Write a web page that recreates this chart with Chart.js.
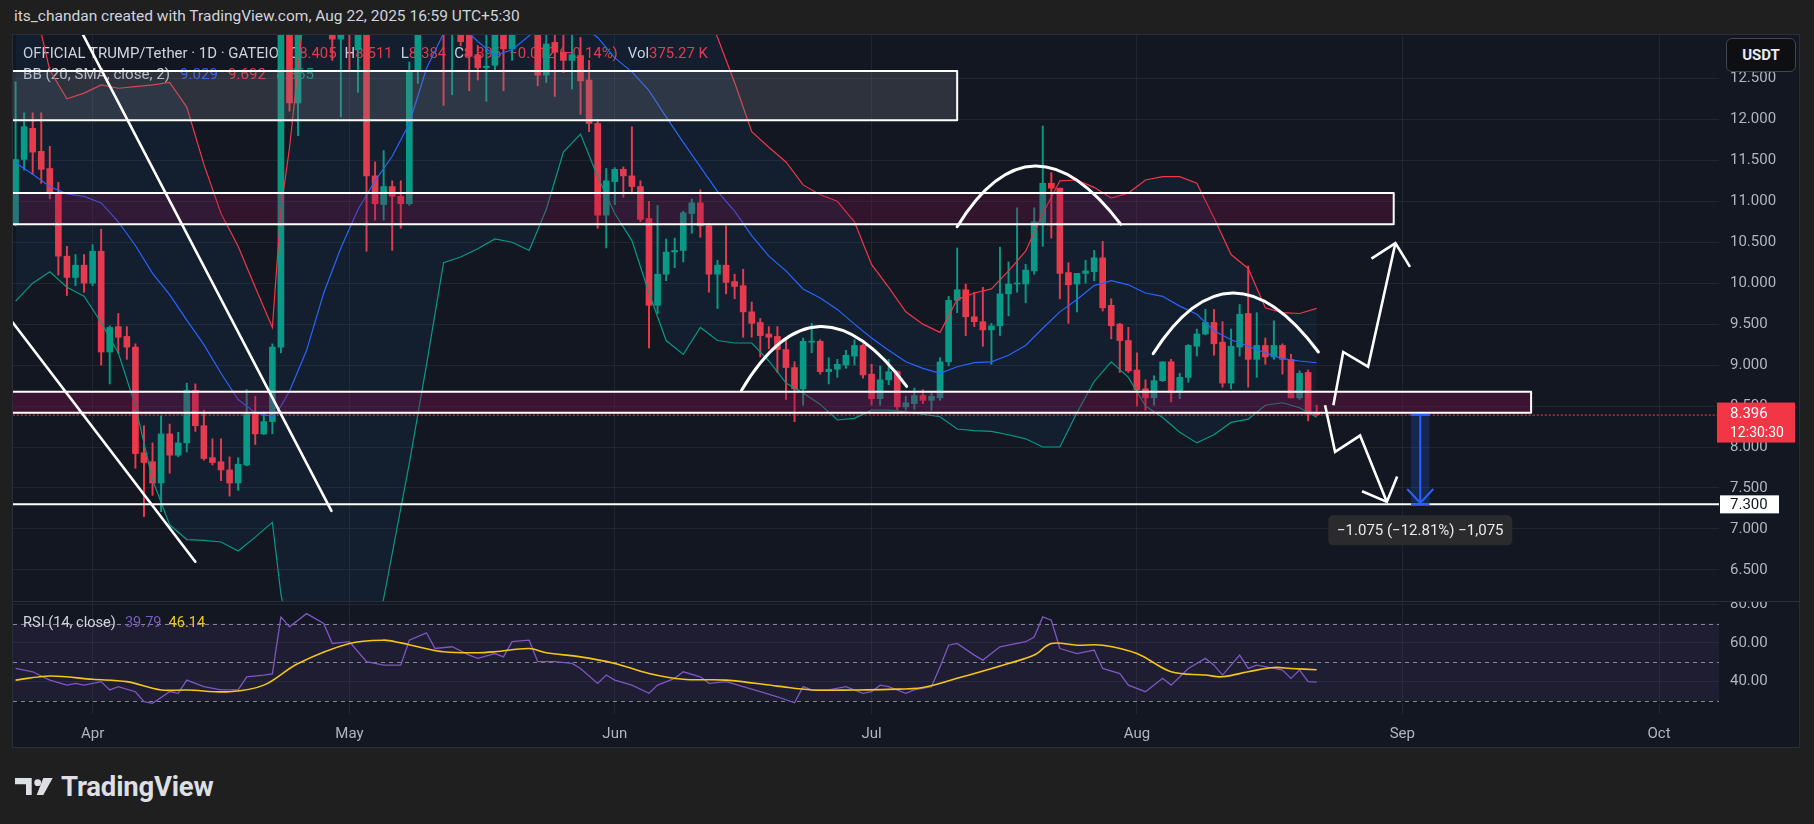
<!DOCTYPE html>
<html>
<head>
<meta charset="utf-8">
<title>OFFICIAL TRUMP/Tether 1D</title>
<script src="https://cdn.jsdelivr.net/npm/chart.js@4.4.1/dist/chart.umd.min.js"></script>
<style>
  html, body { margin: 0; padding: 0; }
  body { width: 1814px; height: 824px; background: #1f1f20; overflow: hidden; position: relative; font-family: Roboto, "Noto Sans", sans-serif; }
  #credit { position: absolute; left: 14px; top: 7px; font-size: 15.5px; color: #d1d4dc; white-space: nowrap; }
  #panel { position: absolute; left: 12px; top: 34px; width: 1786px; height: 712px; background: #131722; border: 1px solid #2a2e39; }
  #price { position: absolute; left: 0; top: 0; }
  #sep { position: absolute; left: 0; top: 566px; width: 1786px; height: 1px; background: #2a2e39; }
  #rsi { position: absolute; left: 0; top: 567px; }
  #usdt { position: absolute; left: 1713px; top: 3px; width: 68px; height: 32px; border: 1px solid #434651; border-radius: 6px;
          background: #0e0f13; color: #e8eaf0; font-size: 15px; font-weight: 700; line-height: 32px; text-align: center; }
  #logo { position: absolute; left: 15px; top: 774px; height: 24px; display: flex; align-items: center; }
  #logo span { margin-left: 8px; font-size: 27.5px; font-weight: 700; color: #dedfe3; letter-spacing: -0.2px; }
</style>
</head>
<body>
<div id="credit">its_chandan created with TradingView.com, Aug 22, 2025 16:59 UTC+5:30</div>
<div id="panel">
  <canvas id="price" width="1786" height="566"></canvas>
  <div id="sep"></div>
  <canvas id="rsi" width="1786" height="145"></canvas>
  <div id="usdt">USDT</div>
</div>
<div id="logo">
  <svg width="38" height="17" viewBox="0 0 38 17"><path d="M0 0H16.7V17H11V6.3H0Z" fill="#dedfe3"/><circle cx="22.7" cy="4.7" r="3.4" fill="#dedfe3"/><path d="M28.3 0H37.7L28.3 17H21.7Z" fill="#dedfe3"/></svg>
  <span>TradingView</span>
</div>
<script>
// daily candles, first one is Mar 23 (day 0 = Apr 1)
const startDay = -9;
const opens = [10.72,11.51,11.89,11.61,11.40,11.10,10.33,10.07,10.22,10.00,
  10.39,9.16,9.47,9.35,9.22,7.93,7.82,7.56,8.16,7.90,
  8.05,8.69,8.26,7.87,7.82,7.72,7.56,7.78,8.40,8.16,
  8.31,9.22,14.20,12.20,13.60,14.00,13.80,13.50,12.98,13.40,
  12.85,13.20,11.31,10.96,11.18,11.06,10.97,12.59,13.40,13.90,
  13.70,13.30,13.60,13.30,12.79,12.63,12.66,13.20,12.86,13.10,
  13.30,13.20,12.54,12.94,12.82,12.72,12.78,12.48,11.95,10.83,
  11.24,11.39,11.31,11.18,10.79,9.73,10.11,10.38,10.40,10.85,
  10.98,10.70,10.11,10.22,10.02,9.97,9.65,9.52,9.38,9.35,
  9.19,8.97,8.71,9.28,9.29,8.92,8.95,9.00,9.11,9.24,
  8.89,8.59,8.82,8.92,8.49,8.53,8.63,8.57,8.60,9.04,
  9.79,9.92,9.59,9.53,9.43,9.48,9.87,9.99,9.99,10.15,
  10.74,11.22,11.16,10.13,9.99,10.12,10.14,10.31,9.73,9.50,
  9.30,8.94,8.71,8.60,8.81,9.04,8.67,8.85,9.23,9.38,
  9.52,9.28,8.78,9.22,9.63,9.07,9.24,9.10,9.24,9.07,
  8.60,8.91,8.405];
const highs = [12.46,12.08,12.08,12.08,11.67,11.23,10.45,10.35,10.35,10.47,
  10.66,9.48,9.63,9.47,9.26,8.26,8.05,8.38,8.28,8.18,
  8.78,8.77,8.45,8.10,8.10,7.88,7.87,8.70,8.62,8.43,
  9.26,15.50,14.60,14.20,14.50,14.80,14.20,13.80,13.60,13.70,
  13.40,13.50,11.48,11.62,11.25,11.25,12.70,13.60,14.20,14.50,
  14.00,13.90,13.80,13.50,12.90,13.10,13.50,13.40,13.30,13.50,
  13.60,13.40,13.10,13.10,13.10,13.10,13.00,12.72,12.00,11.40,
  11.41,11.42,11.91,11.25,11.00,10.95,10.54,10.55,10.88,11.03,
  11.14,10.73,10.28,10.70,10.11,10.17,9.77,9.57,9.47,9.47,
  9.33,9.04,9.33,9.51,9.31,9.09,9.07,9.18,9.31,9.26,
  9.01,8.99,9.07,8.93,8.62,8.72,8.70,8.68,9.09,9.84,
  10.43,9.99,9.89,9.95,9.51,10.44,10.26,10.92,10.23,10.92,
  11.92,11.35,11.16,10.25,10.12,10.28,10.40,10.51,9.81,9.51,
  9.46,9.15,8.82,8.87,9.04,9.07,8.90,9.25,9.44,9.68,
  9.68,9.53,9.44,9.74,10.21,9.64,9.33,9.54,9.26,9.13,
  8.93,8.94,8.511];
const lows = [10.70,11.38,11.33,11.22,11.03,10.10,9.85,9.97,9.89,9.97,
  9.00,8.77,9.14,9.07,7.74,7.15,7.41,7.21,7.68,7.88,
  7.94,8.19,7.84,7.78,7.59,7.40,7.47,7.77,8.03,8.15,
  8.16,9.15,12.10,11.80,13.20,13.40,13.10,12.72,12.03,12.59,
  12.33,10.39,10.77,10.77,10.40,10.67,10.95,12.44,13.10,13.30,
  12.17,12.30,12.90,12.35,12.48,12.22,12.60,12.35,12.72,13.05,
  13.10,12.41,12.45,12.28,12.57,12.37,12.06,11.85,10.67,10.43,
  10.96,11.05,11.09,10.75,9.21,9.63,10.03,10.19,10.26,10.61,
  10.56,9.89,9.69,9.87,9.81,9.34,9.34,9.10,9.20,8.91,
  8.58,8.31,8.51,9.15,8.89,8.77,8.85,8.96,9.00,8.84,
  8.51,8.51,8.76,8.45,8.45,8.46,8.53,8.45,8.57,8.99,
  9.64,9.36,9.47,9.23,9.01,9.36,9.60,9.89,9.76,10.11,
  10.45,10.55,9.81,9.51,9.65,10.00,10.03,9.66,9.32,8.91,
  8.91,8.50,8.45,8.51,8.80,8.55,8.59,8.79,9.11,9.37,
  9.12,8.73,8.71,9.11,8.73,8.85,9.01,9.07,8.89,8.60,
  8.58,8.32,8.384];
const closes = [11.51,11.91,11.60,11.39,11.10,10.33,10.07,10.22,10.00,10.39,
  9.16,9.46,9.34,9.22,7.92,7.81,7.56,8.16,7.90,8.05,
  8.69,8.26,7.86,7.81,7.72,7.56,7.79,8.40,8.16,8.31,
  9.22,14.20,12.20,13.60,14.00,13.80,13.50,12.98,13.40,13.05,
  13.20,11.31,10.97,11.18,11.06,10.97,12.60,13.40,13.90,13.70,
  13.30,13.60,12.95,12.77,12.63,12.65,13.20,12.86,13.10,13.30,
  13.20,12.54,12.92,12.82,12.72,12.79,12.47,11.95,10.83,11.25,
  11.39,11.31,11.18,10.78,9.73,10.11,10.38,10.40,10.86,10.98,
  10.70,10.11,10.22,10.01,9.96,9.65,9.51,9.36,9.34,9.19,
  8.97,8.71,9.29,9.29,8.92,8.95,9.01,9.12,9.24,8.88,
  8.59,8.82,8.92,8.49,8.54,8.63,8.57,8.62,9.04,9.79,
  9.92,9.59,9.53,9.43,9.48,9.87,9.99,10.00,10.16,10.75,
  11.22,11.16,10.12,9.98,10.12,10.15,10.31,9.70,9.48,9.30,
  8.93,8.70,8.60,8.81,9.04,8.67,8.85,9.24,9.38,9.52,
  9.26,8.78,9.23,9.62,9.07,9.24,9.10,9.24,9.07,8.60,
  8.90,8.408,8.396];

// Bollinger Bands (20, 2) at these candle numbers (1 = first candle)
const bbN = [1,3,5,7,9,11,13,15,17,19,21,23,25,27,29,31,32,33,35,37,39,41,43,45,47,49,51,53,55,57,59,61,63,65,67,69,71,73,75,77,79,81,83,85,87,89,91,93,95,97,99,101,103,105,107,109,111,113,115,117,119,121,123,125,127,129,131,133,135,137,139,141,143,145,147,149,151,153];
const bbBasis = [11.47,11.33,11.18,11.09,11.06,10.98,10.75,10.46,10.12,9.86,
  9.55,9.25,8.90,8.58,8.42,8.37,8.50,
  8.68,9.18,9.88,10.43,10.90,11.25,11.55,11.95,12.62,13.05,
  13.15,12.95,12.78,12.85,13.02,13.20,13.25,13.15,13.00,12.75,
  12.58,12.35,12.03,11.72,11.42,11.12,10.88,10.58,10.33,10.15,
  9.93,9.82,9.68,9.50,9.33,9.18,9.04,8.96,8.90,8.98,
  9.03,9.04,9.12,9.24,9.45,9.65,9.80,9.97,10.03,9.98,
  9.88,9.84,9.72,9.62,9.42,9.31,9.23,9.15,9.08,9.05,9.029];
const bbUpper = [14.2,13.5,12.60,12.25,12.32,12.42,12.38,12.40,12.42,12.45,
  12.15,11.45,10.85,10.45,9.95,9.46,10.9,
  11.65,13.6,14.3,14.8,15.2,15.6,15.9,15.8,15.6,15.2,
  14.8,14.0,13.7,13.6,13.8,14.0,14.1,14.1,14.0,13.9,
  13.8,13.8,13.9,13.8,13.5,13.0,12.45,11.85,11.66,11.48,
  11.2,11.08,11.0,10.75,10.23,9.95,9.65,9.50,9.40,9.80,
  9.88,9.93,10.15,10.39,10.85,11.25,11.26,11.17,11.04,11.10,
  11.26,11.30,11.30,11.22,10.80,10.35,10.18,9.70,9.64,9.63,9.692];
const bbLower = [9.78,10.0,10.14,9.95,9.84,9.52,9.15,8.5,7.6,7.05,
  6.87,6.86,6.84,6.73,6.90,7.08,6.2,
  5.7,5.0,4.6,4.5,4.7,5.6,6.7,7.8,9.0,10.25,
  10.32,10.42,10.54,10.50,10.40,10.9,11.6,11.82,11.3,10.85,
  10.52,9.88,9.30,9.13,9.46,9.30,9.27,9.27,9.05,8.78,
  8.66,8.52,8.33,8.35,8.45,8.45,8.43,8.40,8.37,8.22,
  8.20,8.19,8.15,8.10,8.0,8.0,8.42,8.80,9.04,8.85,
  8.50,8.36,8.18,8.05,8.15,8.30,8.34,8.51,8.54,8.48,8.365];

// RSI (14) and its moving average, read at these candle numbers
const rsiN = [1,3,5,7,8,9,11,12,13,15,16,17,19,20,21,23,25,27,28,30,31,32,33,35,37,38,40,42,44,46,47,49,50,52,54,55,57,58,59,61,62,64,66,67,69,70,71,73,75,76,78,79,81,82,84,86,88,90,92,93,94,96,98,100,101,102,103,105,106,108,109,110,111,113,114,116,119,120,121,122,123,125,127,128,130,131,133,135,136,138,140,141,142,144,145,146,148,149,150,151,152,153];
const rsiV = [46.8,45.1,40.8,38.2,39.1,38.2,40.0,35.7,37.4,34.8,29.7,28.8,34.8,34.0,40.8,37.4,35.7,35.7,42.5,43.4,
  44.0,73.4,68.3,75.1,70.0,59.7,60.6,50.3,48.5,48.5,61.4,65.2,57.1,58.0,53.7,52.0,54.5,52.8,60.6,61.4,
  50.3,50.3,49.4,46.8,39.1,43.4,40.8,38.2,34.0,38.2,41.7,45.1,42.5,39.1,40.0,37.4,34.8,32.2,29.1,37.4,
  35.7,35.7,37.4,34.0,34.8,38.2,37.4,34.0,35.7,37.4,47.7,58.8,59.7,53.7,51.1,58.0,60.6,63.0,73.4,71.7,
  57.1,54.5,56.3,46.8,44.2,38.2,34.8,41.7,38.2,46.8,52.0,48.5,43.4,53.7,46.8,48.5,46.8,46.0,41.7,46.0,
  40.0,39.79];
const maN = [1,5,10,14,18,21,26,30,34,40,44,46,48,51,55,57,61,63,67,71,75,79,84,90,94,99,103,107,111,117,120,122,125,128,132,136,140,142,145,148,150,153];
const maV = [40.8,42.9,41.2,40.0,35.7,35.7,34.8,38.2,49.4,59.7,61.4,60.0,58.0,55.4,54.9,55.4,57.1,54.9,52.8,49.4,
  44.2,41.2,40.8,37.7,35.7,35.7,36.0,37.0,41.7,49.4,53.7,59.7,58.8,58.8,54.5,45.1,43.4,42.5,45.1,47.3,46.8,46.14];

// axes
const monthDays = [0, 30, 61, 91, 122, 153, 183];
const monthLabels = ['Apr', 'May', 'Jun', 'Jul', 'Aug', 'Sep', 'Oct'];
const priceTicks = [6.5, 7, 7.5, 8, 8.5, 9, 9.5, 10, 10.5, 11, 11.5, 12, 12.5];
const rsiTicks = [40, 60, 80];

// drawings, anchors as [day, price]
const zones = [[-14, 101.0, 11.99, 12.59], [-14, 152.0, 10.72, 11.10], [-14, 168.05, 8.417, 8.674]];
const supportLevel = 7.3;
const trendLines = [[[-4, 13.61], [27.9, 7.22]], [[-10, 9.61], [12.0, 6.60]]];
const arcs = [
  [[75.8, 8.69], [85.0, 9.47], [95.1, 8.74]],
  [[101.0, 10.69], [110.1, 11.43], [120.1, 10.72]],
  [[123.9, 9.14], [133.2, 9.88], [143.2, 9.16]]
];
const zigUp = [[144.95, 8.51], [146.1, 9.16], [149.0, 8.98], [152.2, 10.49]];
const zigUpWings = [[149.4, 10.30], [153.9, 10.20]];
const zigDown = [[143.98, 8.51], [145.15, 7.94], [148.07, 8.14], [151.2, 7.33]];
const zigDownWings = [[148.3, 7.46], [152.4, 7.64]];
const measureDay = 155.1, measureFrom = 8.392, measureTo = 7.317;

const FONT = 'Roboto, "Noto Sans", sans-serif';
const UP = '#089981', DOWN = '#f23645', TXT = '#d1d4dc', AXIS = '#b2b5be';
const GRID = 'rgba(46,50,62,0.55)';
Chart.defaults.font.family = FONT;

const dayOf = n => startDay + n - 1;
const last = closes.length - 1;
const colorAt = i => closes[i] >= opens[i] ? UP : DOWN;

function fitFont(ctx, text, width) {
  ctx.font = '14px ' + FONT;
  const s = 14 * width / ctx.measureText(text).width;
  ctx.font = s.toFixed(2) + 'px ' + FONT;
}
function drawRow(ctx, x, y, segs) {
  ctx.textAlign = 'left';
  ctx.textBaseline = 'middle';
  for (const [t, c, g] of segs) {
    ctx.fillStyle = c;
    ctx.fillText(t, x, y);
    x += ctx.measureText(t).width + (g || 0);
  }
}
function poly(ctx, pts, X, Y) {
  ctx.beginPath();
  pts.forEach((p, i) => i ? ctx.lineTo(X(p[0]), Y(p[1])) : ctx.moveTo(X(p[0]), Y(p[1])));
  ctx.stroke();
}
function roundRect(ctx, x, y, w, h, r) {
  ctx.beginPath();
  ctx.moveTo(x + r, y); ctx.arcTo(x + w, y, x + w, y + h, r); ctx.arcTo(x + w, y + h, x, y + h, r);
  ctx.arcTo(x, y + h, x, y, r); ctx.arcTo(x, y, x + w, y, r); ctx.closePath();
}

const priceDrawings = {
  id: 'priceDrawings',
  beforeDatasetsDraw(chart) {
    const ctx = chart.ctx;
    const x0 = chart.chartArea.left + 10;
    const f = v => v.toFixed(3);
    const chg = closes[last] - closes[last - 1];
    const pct = chg / closes[last - 1] * 100;
    const title = 'OFFICIAL TRUMP/Tether · 1D · GATEIO';
    ctx.save();
    fitFont(ctx, title, 256);
    drawRow(ctx, x0, 19, [[title, TXT, 10], ['O', TXT], [f(opens[last]), DOWN, 8], ['H', TXT], [f(highs[last]), DOWN, 8],
      ['L', TXT], [f(lows[last]), DOWN, 8], ['C', TXT], [f(closes[last]), DOWN, 8],
      ['\u2212' + Math.abs(chg).toFixed(3) + ' (\u2212' + Math.abs(pct).toFixed(2) + '%)', DOWN, 10], ['Vol', TXT], ['375.27 K', DOWN]]);
    const bbTitle = 'BB (20, SMA, close, 2)';
    fitFont(ctx, bbTitle, 147);
    drawRow(ctx, x0, 40.5, [[bbTitle, TXT, 10], [f(bbBasis[bbBasis.length - 1]), '#2962ff', 10],
      [f(bbUpper[bbUpper.length - 1]), DOWN, 10], [f(bbLower[bbLower.length - 1]), UP]]);
    ctx.restore();
  },
  afterDatasetsDraw(chart) {
    const ctx = chart.ctx, a = chart.chartArea;
    const xs = chart.scales.x, ys = chart.scales.y;
    const X = d => xs.getPixelForValue(d), Y = p => ys.getPixelForValue(p);
    ctx.save();
    ctx.beginPath(); ctx.rect(a.left, a.top, a.right - a.left, a.bottom - a.top); ctx.clip();
    ctx.lineCap = 'round'; ctx.lineJoin = 'round';

    // zones
    const fills = ['rgba(120,123,134,0.28)', 'rgba(136,14,79,0.26)', 'rgba(136,14,79,0.34)'];
    zones.forEach((z, i) => {
      const l = X(z[0]), r = X(z[1]), t = Y(z[3]), b = Y(z[2]);
      ctx.fillStyle = fills[i];
      ctx.fillRect(l, t, r - l, b - t);
      ctx.strokeStyle = '#ffffff'; ctx.lineWidth = 2;
      ctx.strokeRect(l, t, r - l, b - t);
    });
    // support line
    ctx.strokeStyle = '#ffffff'; ctx.lineWidth = 2;
    ctx.beginPath(); ctx.moveTo(a.left, Y(supportLevel)); ctx.lineTo(a.right, Y(supportLevel)); ctx.stroke();
    // current price line
    ctx.save();
    ctx.strokeStyle = DOWN; ctx.lineWidth = 1; ctx.setLineDash([1.5, 2.5]);
    ctx.beginPath(); ctx.moveTo(a.left, Y(closes[last]) + 0.5); ctx.lineTo(a.right, Y(closes[last]) + 0.5); ctx.stroke();
    ctx.restore();
    // trend lines
    ctx.lineWidth = 2.6;
    trendLines.forEach(l => poly(ctx, l, X, Y));
    // arcs
    ctx.lineWidth = 3;
    arcs.forEach(([s, p, e]) => {
      const sx = X(s[0]), sy = Y(s[1]), ex = X(e[0]), ey = Y(e[1]);
      const cx = 2 * X(p[0]) - (sx + ex) / 2, cy = 2 * Y(p[1]) - (sy + ey) / 2;
      ctx.beginPath(); ctx.moveTo(sx, sy); ctx.quadraticCurveTo(cx, cy, ex, ey); ctx.stroke();
    });
    // zigzag arrows
    ctx.lineWidth = 2.6; ctx.lineJoin = 'miter'; ctx.lineCap = 'butt';
    poly(ctx, zigUp, X, Y);
    poly(ctx, [zigUpWings[0], zigUp[zigUp.length - 1], zigUpWings[1]], X, Y);
    poly(ctx, zigDown, X, Y);
    poly(ctx, [zigDownWings[0], zigDown[zigDown.length - 1], zigDownWings[1]], X, Y);
    // measure
    const mx = X(measureDay), y1 = Y(measureFrom), y2 = Y(measureTo);
    const ml = X(measureDay - 1.08), mr = X(measureDay + 1.08);
    ctx.fillStyle = 'rgba(41,98,255,0.2)';
    ctx.fillRect(ml, y1, mr - ml, y2 - y1);
    ctx.strokeStyle = '#2962ff'; ctx.lineWidth = 2;
    ctx.beginPath();
    ctx.moveTo(ml, y1); ctx.lineTo(mr, y1);
    ctx.moveTo(mx, y1); ctx.lineTo(mx, y2);
    ctx.moveTo(ml, y2 + 1); ctx.lineTo(mr, y2 + 1);
    ctx.moveTo(mx - 13, y2 - 14); ctx.lineTo(mx, y2); ctx.lineTo(mx + 13, y2 - 14);
    ctx.stroke();
    const diff = measureFrom - measureTo;
    const label = '\u2212' + diff.toFixed(3) + ' (\u2212' + (diff / measureFrom * 100).toFixed(2) + '%) \u2212' +
      Math.round(diff * 1000).toLocaleString('en-US');
    const by = Y(supportLevel) + 11;
    ctx.fillStyle = '#2b2b2e';
    roundRect(ctx, mx - 92, by, 184, 30, 5); ctx.fill();
    ctx.fillStyle = '#e8e9ec'; ctx.font = '15px ' + FONT; ctx.textAlign = 'center'; ctx.textBaseline = 'middle';
    ctx.fillText(label, mx, by + 15.5);
    ctx.restore();
  },
  afterDraw(chart) {
    const ctx = chart.ctx, a = chart.chartArea, ys = chart.scales.y;
    const py = ys.getPixelForValue(closes[last]);
    const sy = ys.getPixelForValue(supportLevel);
    ctx.save();
    ctx.fillStyle = DOWN;
    ctx.fillRect(a.right - 2, py - 12, 78, 40);
    ctx.fillStyle = '#ffffff'; ctx.textAlign = 'left'; ctx.textBaseline = 'middle';
    ctx.font = '15px ' + FONT;
    ctx.fillText(closes[last].toFixed(3), a.right + 11, py);
    ctx.font = '14px ' + FONT;
    ctx.fillText('12:30:30', a.right + 11, py + 19);
    ctx.fillStyle = '#ffffff';
    ctx.fillRect(a.right + 1, sy - 9, 59, 18);
    ctx.fillStyle = '#131722'; ctx.font = '15px ' + FONT;
    ctx.fillText(supportLevel.toFixed(3), a.right + 11, sy + 0.5);
    ctx.restore();
  }
};

const rsiDecor = {
  id: 'rsiDecor',
  beforeDatasetsDraw(chart) {
    const ctx = chart.ctx, a = chart.chartArea, ys = chart.scales.y;
    const Y = v => ys.getPixelForValue(v);
    ctx.save();
    ctx.fillStyle = 'rgba(126,87,194,0.1)';
    ctx.fillRect(a.left, Y(70), a.right - a.left, Y(30) - Y(70));
    ctx.strokeStyle = 'rgba(170,173,182,0.75)'; ctx.lineWidth = 1; ctx.setLineDash([4, 4]);
    [70, 50, 30].forEach(v => {
      ctx.beginPath(); ctx.moveTo(a.left, Math.round(Y(v)) + 0.5); ctx.lineTo(a.right, Math.round(Y(v)) + 0.5); ctx.stroke();
    });
    ctx.setLineDash([]);
    const title = 'RSI (14, close)';
    fitFont(ctx, title, 93);
    drawRow(ctx, a.left + 10, 21, [[title, TXT, 9], [rsiV[rsiV.length - 1].toFixed(2), '#7e57c2', 7],
      [maV[maV.length - 1].toFixed(2), '#f5c518']]);
    ctx.restore();
  }
};

const xAxis = (showLabels) => ({
  type: 'linear', min: -9.3, max: 190, offset: false,
  afterBuildTicks: s => { s.ticks = monthDays.map(v => ({ value: v })); },
  afterFit: s => { s.height = showLabels ? 33 : 0; s.paddingLeft = 0; s.paddingRight = 0; },
  grid: { color: GRID, drawTicks: false, offset: false },
  border: { display: false },
  ticks: { display: showLabels, autoSkip: false, maxRotation: 0, padding: 11, color: AXIS, font: { size: 15 },
    callback: v => monthLabels[monthDays.indexOf(v)] }
});
const yAxis = (min, max, ticks, digits) => ({
  position: 'right', min, max,
  afterBuildTicks: s => { s.ticks = ticks.map(v => ({ value: v })); },
  afterFit: s => { s.width = 80; s.paddingTop = 0; s.paddingBottom = 0; },
  grid: { color: GRID, drawTicks: false },
  border: { display: false },
  ticks: { padding: 11, color: AXIS, font: { size: 15 }, callback: v => v.toFixed(digits) }
});
const common = {
  responsive: false, animation: false, events: [],
  layout: { padding: 0 },
  plugins: { legend: { display: false }, tooltip: { enabled: false } }
};

const bandLine = (vals, color, extra) => Object.assign({
  type: 'line', data: bbN.map((n, i) => ({ x: dayOf(n), y: vals[i] })),
  borderColor: color, borderWidth: 1.2, pointRadius: 0, tension: 0, clip: 0, order: 0, fill: false
}, extra || {});

new Chart(document.getElementById('price'), {
  type: 'bar',
  data: {
    datasets: [
      bandLine(bbUpper, DOWN, { fill: { target: '+2', above: 'rgba(33,150,243,0.06)', below: 'rgba(33,150,243,0.06)' } }),
      bandLine(bbBasis, '#2962ff'),
      bandLine(bbLower, UP),
      {
        type: 'bar', data: closes.map((c, i) => ({ x: startDay + i, y: [lows[i], highs[i]] })),
        backgroundColor: ctx => colorAt(ctx.dataIndex), barThickness: 1.3, grouped: false, order: 2, clip: 0
      },
      {
        type: 'bar', data: closes.map((c, i) => ({ x: startDay + i, y: [opens[i], c] })),
        backgroundColor: ctx => colorAt(ctx.dataIndex), barThickness: 6, minBarLength: 1, grouped: false, order: 1, clip: 0
      }
    ]
  },
  options: Object.assign({}, common, {
    scales: { x: xAxis(false), y: yAxis(6.12, 13.03, priceTicks, 3) }
  }),
  plugins: [priceDrawings]
});

new Chart(document.getElementById('rsi'), {
  type: 'line',
  data: {
    datasets: [
      { data: maN.map((n, i) => ({ x: dayOf(n), y: maV[i] })), borderColor: '#f5c518', borderWidth: 1.6,
        pointRadius: 0, tension: 0.35, clip: 0 },
      { data: rsiN.map((n, i) => ({ x: dayOf(n), y: rsiV[i] })), borderColor: '#7e57c2', borderWidth: 1.3,
        pointRadius: 0, tension: 0, clip: 0 }
    ]
  },
  options: Object.assign({}, common, {
    scales: { x: xAxis(true), y: yAxis(23.3, 81.1, rsiTicks, 2) }
  }),
  plugins: [rsiDecor]
});
</script>
</body>
</html>
